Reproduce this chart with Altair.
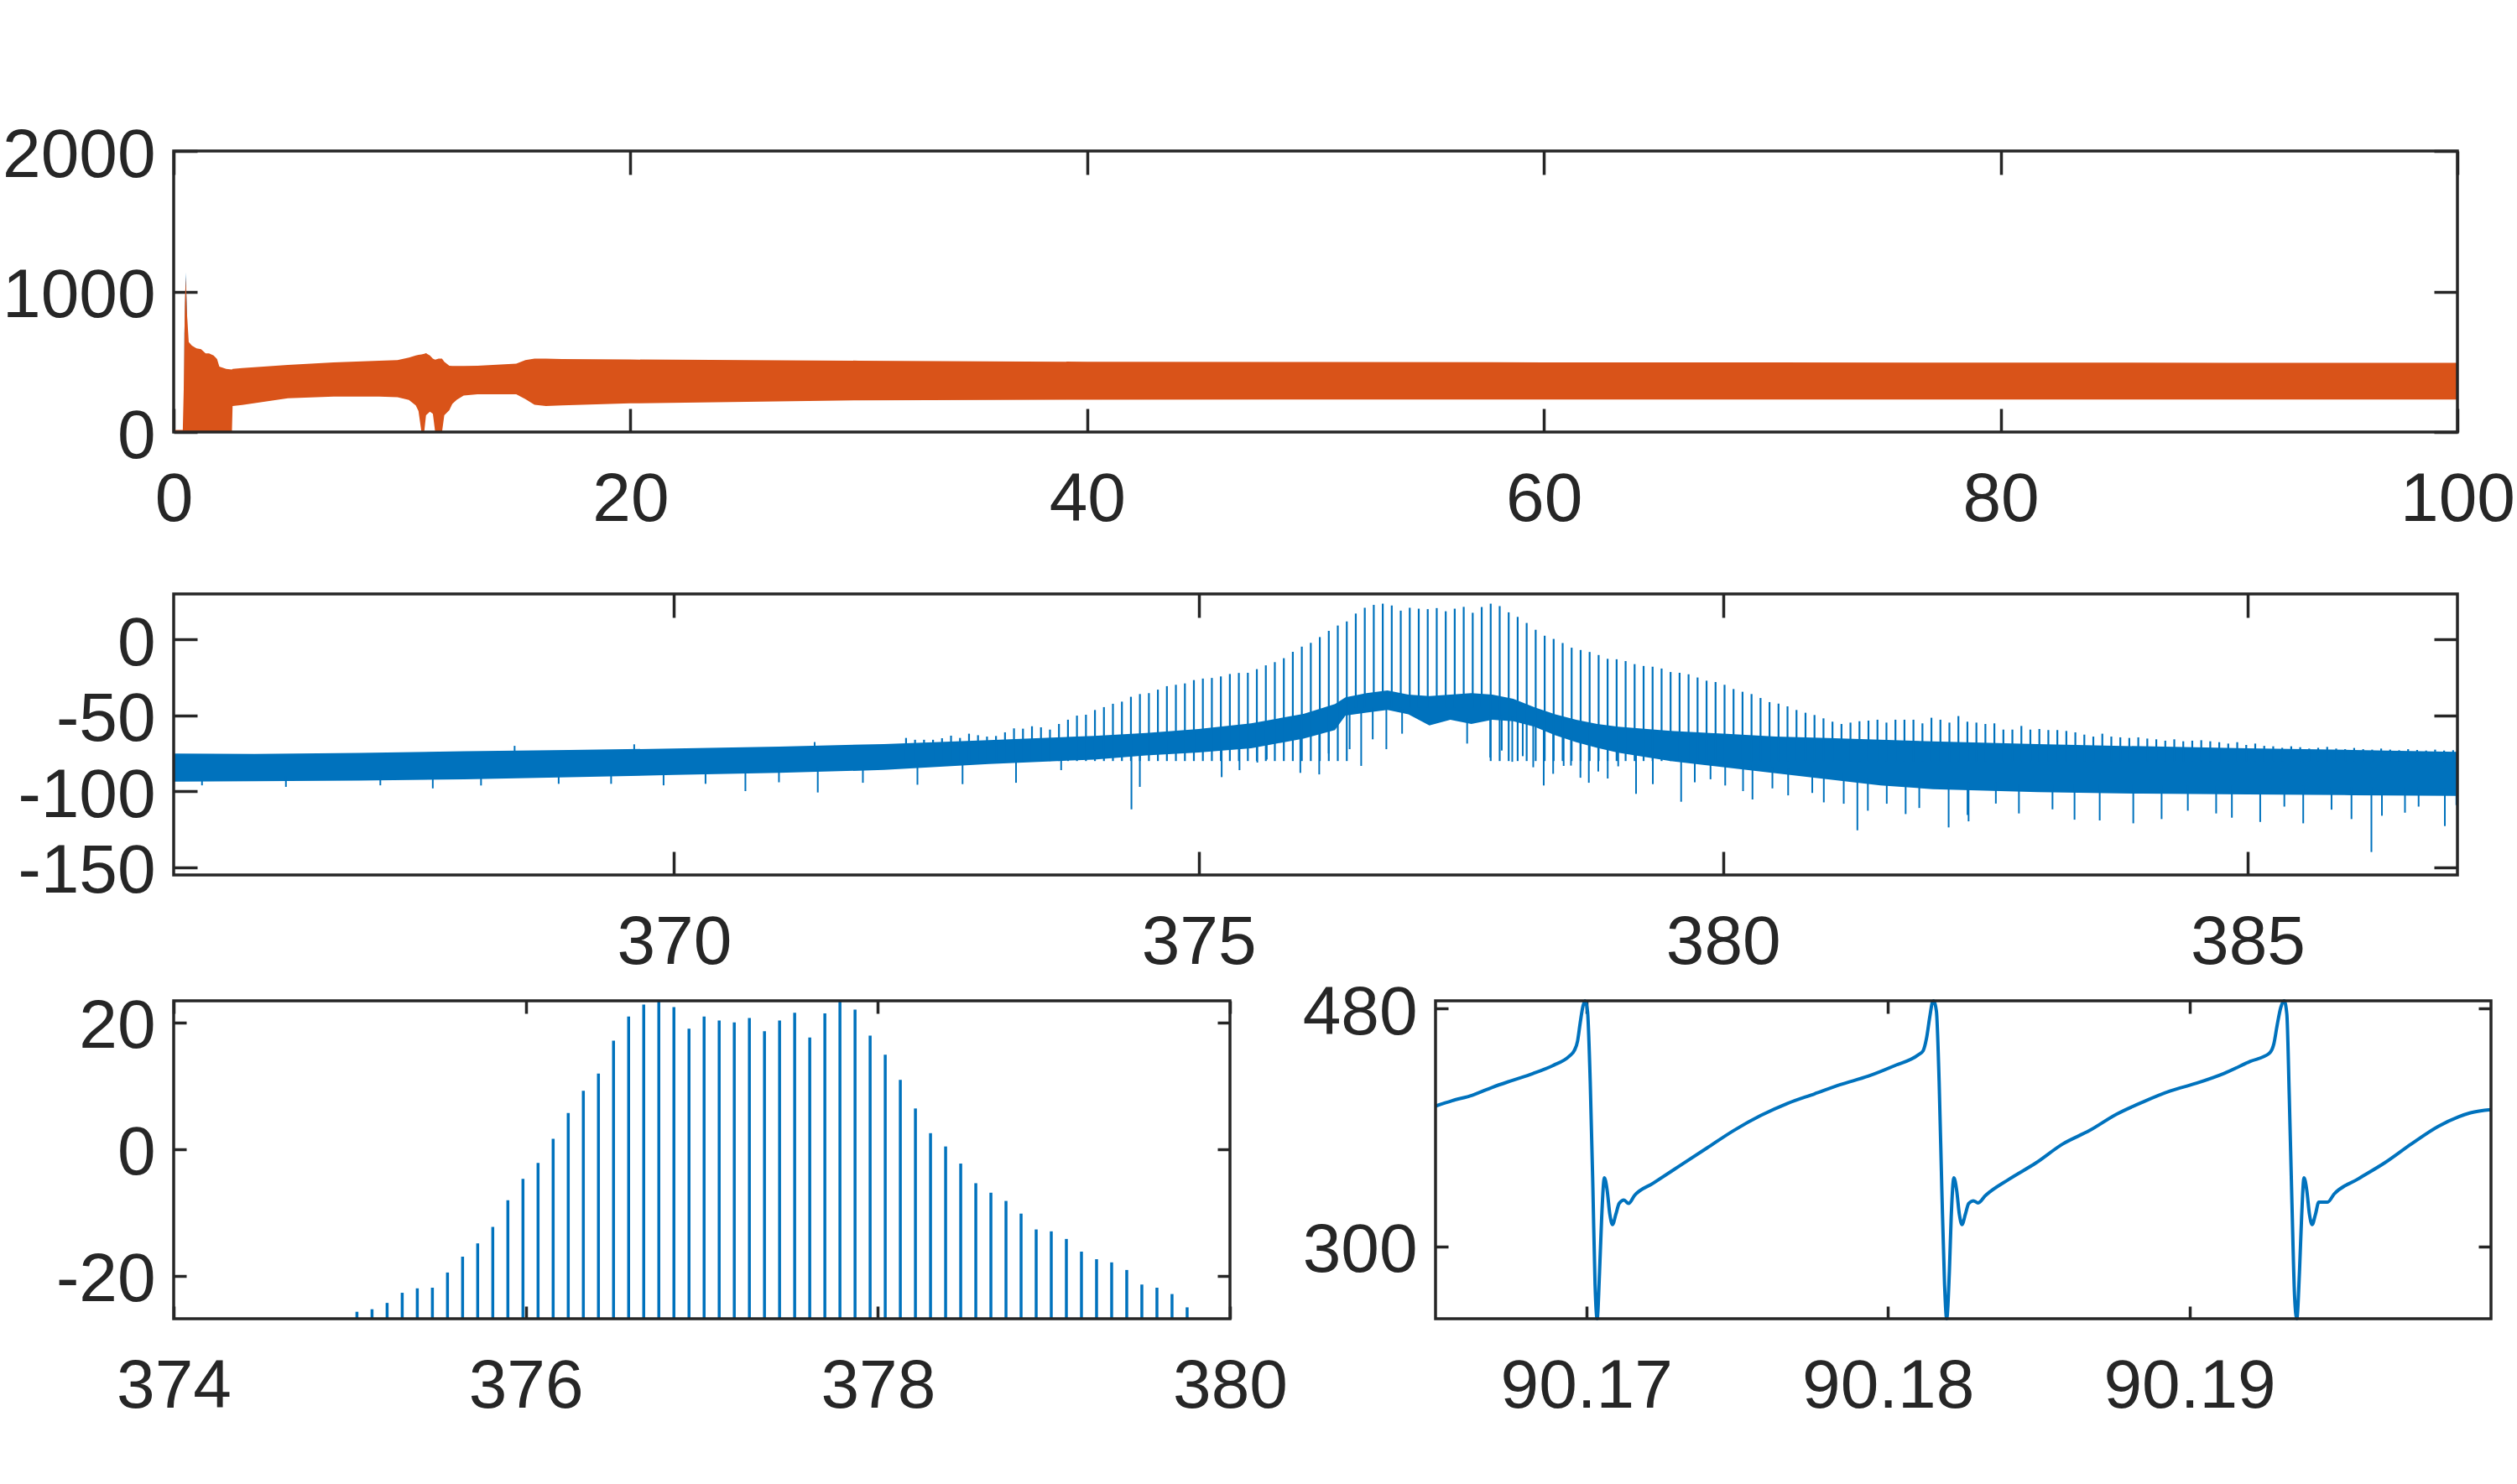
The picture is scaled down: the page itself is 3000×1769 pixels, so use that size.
import altair as alt
import numpy as np
import pandas as pd

BLUE = "#0072BD"
ORANGE = "#D95319"
INK = "#262626"
FONT = "Liberation Sans"
W, H = 3000, 1769

# ---------------- panel 1: envelope of the fast oscillation, 0-100 ns ----------------
TRACE_T = [0.0, 0.40, 0.44, 0.49, 0.53, 0.58, 0.66, 0.80, 1.00, 1.20, 1.40, 1.55, 1.75,
           1.90, 2.00, 2.30, 2.55, 2.58, 3.0, 5.0, 7.0, 9.0, 9.8, 10.3, 10.6, 10.72,
           10.85, 10.97, 11.05, 11.22, 11.35, 11.45, 11.6, 11.75, 11.85, 12.07, 12.2,
           12.4, 12.7, 13.3, 15.0, 15.4, 15.8, 16.3, 17.0, 20.0, 30.0, 40.0, 50.0,
           60.0, 70.0, 80.0, 90.0, 100.0]
TRACE_LO = [0, 0, 0, 0, 0, 0, 0, 0, 0, 0, 0, 0, 0,
            0, 0, 0, 0, 185, 192, 240, 252, 252, 248, 228, 190, 150,
            0, 0, 120, 145, 130, 0, 0, 0, 120, 155, 200,
            230, 260, 268, 268, 234, 194, 185, 190, 204, 226, 230, 232,
            232, 232, 232, 232, 232]
TRACE_HI = [15, 15, 300, 900, 1105, 850, 640, 615, 595, 590, 560, 560, 545,
            520, 465, 450, 445, 450, 455, 478, 496, 508, 512, 530, 545, 550,
            552, 556, 561, 545, 522, 515, 522, 522, 500, 472, 470,
            470, 470, 472, 486, 512, 522, 522, 520, 516, 508, 500, 498,
            496, 495, 494, 493, 492]
# first channel, visible only above the second one at the start-up spike
TRACE0_T = [0.47, 0.53, 0.59]
TRACE0_HI = [700, 1135, 800]

# ---------------- panel 2: spectrum (dB) ----------------
BAND_F = [365.2, 366.0, 367.0, 368.0, 369.0, 370.0, 371.0, 372.0, 373.0, 374.0,
          374.5, 375.0, 375.5, 376.0, 376.3, 376.4, 376.6, 376.8, 377.0, 377.2,
          377.4, 377.6, 377.8, 378.0, 378.2, 378.4, 378.6, 378.8, 379.0, 379.5,
          380.0, 380.5, 381.0, 381.5, 382.0, 383.0, 384.0, 385.0, 386.0, 387.0]
BAND_LO = [-93.5, -93.3, -92.9, -92.0, -90.7, -89.2, -87.8, -85.9, -82.0, -79.0,
           -76.3, -74.4, -71.6, -65.2, -59.6, -50.1, -48.2, -46.4, -49.2, -56.5,
           -52.8, -55.6, -52.8, -53.8, -57.4, -63.0, -67.6, -71.3, -74.5, -80.0,
           -84.0, -88.0, -92.0, -96.0, -98.5, -100.5, -101.5, -102.0, -102.5, -103.0]
BAND_HI = [-75.0, -75.4, -74.6, -73.6, -72.7, -71.8, -70.5, -68.8, -66.2, -63.5,
           -61.6, -58.9, -55.2, -49.0, -42.5, -38.1, -35.3, -33.5, -36.3, -37.2,
           -36.3, -35.3, -36.3, -39.0, -44.5, -49.2, -52.8, -55.6, -57.4, -60.2,
           -62.0, -63.9, -64.8, -66.0, -67.0, -68.9, -70.3, -71.6, -72.7, -74.0]

# comb lines on a uniform frequency grid (THz)
COMB_F0 = 372.2115
COMB_DF = 0.08574
COMB_PEAK = [
    -64.8, -66.0, -66.0, -66.0, -65.0, -63.3, -64.8, -62.0, -63.0, -63.9,
    -63.5, -61.1, -58.5, -58.7, -57.1, -57.8, -59.3, -55.6, -52.8, -50.1,
    -49.5, -46.4, -44.5, -42.3, -40.9, -37.7, -35.9, -35.3, -33.0, -30.7,
    -29.8, -28.9, -26.7,
    -25.7, -25.3, -24.3, -22.7, -22.0, -21.9, -19.5, -17.0, -14.9, -12.3,
    -8.1, -4.7, -2.2, 1.6, 5.7, 9.2, 11.9, 17.1, 20.9, 22.8,
    23.6, 22.4, 19.0, 20.9, 20.3, 20.0, 20.7, 18.6, 20.3, 21.5,
    17.6, 21.4, 23.6, 22.0, 17.9, 14.9, 10.9, 6.4, 2.5, 0.4,
    -2.3, -5.4, -6.9, -8.2, -10.2, -12.7, -13.0, -14.2, -16.2, -17.4,
    -17.9, -19.1, -21.4, -21.9, -22.9, -25.0,
    -27.1, -28.0, -29.8, -32.6, -34.4, -35.9, -38.5, -41.2, -42.2, -44.0,
    -46.4, -48.2, -49.7, -51.9, -54.1, -55.6,
    -54.7, -53.8, -53.4, -52.8, -54.7, -52.8, -52.8, -52.8, -55.2, -51.5,
    -52.8, -54.7, -50.4, -54.1, -54.7, -55.6, -55.2, -59.3, -59.3, -56.9,
    -59.3, -58.9, -59.6, -59.6, -60.2, -61.1, -62.6, -63.9, -62.0, -63.9,
    -64.4, -64.8, -64.4, -65.2, -65.7, -66.6, -65.7, -67.0, -66.6, -66.3,
    -67.0, -67.6, -68.5, -67.6, -69.4, -68.5, -70.0,
    -70.3, -71.3, -70.3, -70.9, -71.8, -71.3, -70.7, -71.8, -72.2, -71.4,
    -72.2, -72.5, -71.8, -72.5, -72.9, -72.2, -72.7, -73.1, -72.5, -73.1,
    -72.9,
]

# isolated noise spikes sticking out of the noise floor
SPIKE_F = [365.5, 366.3, 367.2, 367.7, 368.16, 368.48, 368.9, 369.4, 369.62, 369.9,
           370.3, 370.68, 371.0, 371.34, 371.37, 371.80, 372.32, 372.75, 373.26, 373.69,
           374.36, 374.44, 375.22, 375.39, 375.56, 375.65, 375.97, 376.15, 376.24, 376.44,
           376.55, 376.66, 376.79, 376.94, 377.56, 377.78, 377.89, 377.99, 378.09, 378.19,
           378.29, 378.38, 378.48, 378.55, 378.64, 378.72, 378.81, 378.90, 379.00, 379.17,
           379.33, 379.60, 379.73, 379.88, 380.02, 380.19, 380.28, 380.47, 380.62, 380.85,
           380.96, 381.15, 381.28, 381.38, 381.56, 381.74, 381.87, 382.15, 382.33, 382.34,
           382.60, 382.82, 383.14, 383.35, 383.59, 383.91, 384.18, 384.43, 384.70, 384.85,
           385.12, 385.35, 385.53, 385.80, 385.99, 386.18, 386.28, 386.50, 386.63, 386.88,
           386.99]
SPIKE_FROM = [-90, -90, -89, -89, -88, -76, -88, -87, -75, -86,
              -86, -86, -84, -73, -84, -83, -82, -80, -79, -77,
              -76, -74, -71, -69, -68, -67, -62, -58, -56, -48,
              -46, -45, -45, -46, -52, -50, -50, -51, -53, -55,
              -58, -60, -62, -64, -66, -67, -69, -70, -71, -73,
              -75, -77, -78, -80, -81, -82, -83, -84, -85, -86,
              -87, -88, -92, -92, -93, -93, -93, -94, -94, -94,
              -94, -95, -95, -95, -95, -95, -96, -96, -96, -96,
              -96, -96, -96, -97, -97, -97, -97, -97, -97, -98,
              -98]
SPIKE_TO = [-96.0, -97.0, -96.0, -98.0, -96.1, -70.0, -95.0, -95.0, -69.0, -96.0,
            -95.0, -99.8, -94.0, -67.5, -100.7, -94.3, -95.6, -95.2, -94.3, -86.0,
            -111.8, -97.0, -90.6, -86.0, -81.0, -79.0, -87.8, -88.8, -75.0, -72.2,
            -83.2, -65.7, -72.2, -62.0, -68.5, -77.7, -73.1, -80.5, -76.8, -84.1,
            -96.1, -88.4, -83.2, -83.0, -91.0, -94.3, -86.9, -91.5, -83.5, -101.6,
            -95.2, -106.8, -94.0, -92.0, -96.1, -99.8, -105.3, -98.0, -102.6, -101.0,
            -107.2, -108.1, -125.6, -112.7, -108.1, -114.9, -110.9, -123.7, -115.5, -119.7,
            -108.0, -114.5, -111.8, -118.6, -119.1, -121.0, -118.2, -112.7, -114.5, -117.3,
            -120.1, -110.0, -121.0, -112.0, -118.2, -139.9, -116.0, -114.0, -110.0, -122.8,
            -109.0]

# ---------------- panel 4: pulse train, time in ns ----------------
WAVE_T = [90.16500, 90.16555, 90.16622, 90.16689, 90.16755, 90.16822, 90.16889, 90.16944,
          90.16960, 90.16971, 90.16980, 90.16989, 90.16996, 90.17004, 90.17013, 90.17022,
          90.17029, 90.17036, 90.17044, 90.17051, 90.17060, 90.17069, 90.17078, 90.17087,
          90.17098, 90.17109, 90.17125, 90.17140, 90.17160, 90.17222, 90.17311, 90.17400,
          90.17489, 90.17578, 90.17667, 90.17756, 90.17845, 90.17934, 90.18023, 90.18101,
          90.18117, 90.18128, 90.18139, 90.18148, 90.18152, 90.18161, 90.18170, 90.18179,
          90.18188, 90.18195, 90.18204, 90.18210, 90.18219, 90.18228, 90.18237, 90.18246,
          90.18257, 90.18268, 90.18284, 90.18299, 90.18324, 90.18402, 90.18491, 90.18580,
          90.18669, 90.18758, 90.18846, 90.18935, 90.19024, 90.19113, 90.19202, 90.19265,
          90.19280, 90.19291, 90.19303, 90.19314, 90.19323, 90.19331, 90.19340, 90.19349,
          90.19356, 90.19365, 90.19372, 90.19380, 90.19389, 90.19398, 90.19407, 90.19418,
          90.19429, 90.19458, 90.19480, 90.19558, 90.19647, 90.19736, 90.19825, 90.19892,
          90.19932, 90.20000]
WAVE_V = [406.2, 410.3, 414.4, 420.5, 425.7, 430.8, 436.9, 444.1,
          448.2, 455.4, 469.7, 482.0, 492.0, 478.0, 424.6, 342.6,
          270.9, 238.0, 281.0, 322.0, 351.9, 342.6, 324.2, 316.4,
          324.2, 332.4, 334.9, 332.4, 338.5, 347.8, 361.1, 374.4,
          387.7, 399.0, 408.2, 415.4, 422.6, 428.8, 436.9, 445.1,
          448.2, 457.4, 473.8, 485.1, 492.0, 478.0, 424.6, 342.6,
          270.9, 238.0, 281.0, 322.0, 351.9, 342.6, 324.2, 316.4,
          324.2, 332.4, 334.4, 332.8, 338.5, 350.8, 363.1, 377.5,
          387.7, 400.0, 409.3, 417.5, 423.6, 430.8, 440.1, 446.2,
          453.4, 467.7, 481.0, 492.0, 475.9, 414.4, 332.4, 260.6,
          238.0, 281.0, 322.0, 351.9, 342.6, 324.2, 316.4, 324.2,
          333.4, 333.4, 339.6, 350.8, 363.1, 377.5, 390.8, 398.0,
          401.1, 403.5]

# ---------------- axes limits and ticks ----------------
P1_X, P1_Y = [0, 100], [0, 2000]
P2_X, P2_Y = [365.23, 387.0], [-155, 30]
P3_X, P3_Y = [374, 380], [-26.8, 23.4]
P4_X, P4_Y = [90.165, 90.2], [245, 486]

INT_LABEL = "datum.value < 0 ? '-' + format(-datum.value, 'd') : format(datum.value, 'd')"
DEC_LABEL = "format(datum.value, '.2f')"

# pixel boxes of the four plot areas: (left, right, top, bottom)
BOX1 = (207, 2929, 180, 515)
BOX2 = (207, 2929, 708, 1043)
BOX3 = (207, 1466, 1193, 1572)
BOX4 = (1711, 2969, 1193, 1572)


def scales(xdom, ydom, box):
    x0, x1, ytop, ybot = box
    xs = alt.Scale(domain=xdom, range=[x0, x1], nice=False, zero=False, clamp=True)
    ys = alt.Scale(domain=ydom, range=[ybot, ytop], nice=False, zero=False, clamp=True)
    return xs, ys


def frame(xs, ys, xdom, ydom, box, xticks, yticks, tick, xexpr, yexpr):
    """Box, inward ticks on all four sides, and tick labels on bottom/left."""
    x0, x1, ytop, ybot = box
    df = pd.DataFrame({"xa": [xdom[0]], "xb": [xdom[1]], "ya": [ydom[0]], "yb": [ydom[1]]})
    tick_style = dict(tickSize=tick, tickWidth=3.5, tickColor=INK, domain=False, grid=False)
    label_style = dict(labelFont=FONT, labelFontSize=82, labelColor=INK, labelLimit=1000,
                       labelFlush=False, labelOverlap=False)
    near = alt.Chart(df).mark_rect(fillOpacity=0, stroke=INK, strokeWidth=3.5).encode(
        x=alt.X("xa:Q", scale=xs, title=None,
                axis=alt.Axis(orient="bottom", values=xticks, offset=ybot - tick - H,
                              labelPadding=40, labelExpr=xexpr, **tick_style, **label_style)),
        x2="xb:Q",
        y=alt.Y("ya:Q", scale=ys, title=None,
                axis=alt.Axis(orient="left", values=yticks, offset=-(x0 + tick),
                              labelPadding=22, labelOffset=5, labelExpr=yexpr,
                              **tick_style, **label_style)),
        y2="yb:Q",
    )
    far = alt.Chart(df).mark_rect(opacity=0).encode(
        x=alt.X("xa:Q", scale=xs, title=None,
                axis=alt.Axis(orient="top", values=xticks, offset=-(ytop + tick),
                              labels=False, **tick_style)),
        x2="xb:Q",
        y=alt.Y("ya:Q", scale=ys, title=None,
                axis=alt.Axis(orient="right", values=yticks, offset=x1 - tick - W,
                              labels=False, **tick_style)),
        y2="yb:Q",
    )
    return [near, far]


layers = []

# ---- panel 1 ----
xs, ys = scales(P1_X, P1_Y, BOX1)
tr0 = pd.DataFrame({"t": TRACE0_T, "lo": [0] * len(TRACE0_T), "hi": TRACE0_HI})
tr = pd.DataFrame({"t": TRACE_T, "lo": TRACE_LO, "hi": TRACE_HI})
layers.append(alt.Chart(tr0).mark_area(color=BLUE).encode(
    x=alt.X("t:Q", scale=xs, axis=None), y=alt.Y("lo:Q", scale=ys, axis=None), y2="hi:Q"))
layers.append(alt.Chart(tr).mark_area(color=ORANGE).encode(
    x=alt.X("t:Q", scale=xs, axis=None), y=alt.Y("lo:Q", scale=ys, axis=None), y2="hi:Q"))
layers += frame(xs, ys, P1_X, P1_Y, BOX1, [0, 20, 40, 60, 80, 100], [0, 1000, 2000], 28,
                INT_LABEL, INT_LABEL)

# ---- panel 2 ----
xs, ys = scales(P2_X, P2_Y, BOX2)
band = pd.DataFrame({"f": BAND_F, "lo": BAND_LO, "hi": BAND_HI})
comb = pd.DataFrame({"f": COMB_F0 + COMB_DF * np.arange(len(COMB_PEAK)), "peak": COMB_PEAK})
core = (comb["f"] > 376.45) & (comb["f"] < 377.75)
comb["base"] = np.where(core, -45.0, -80.0)
spikes = pd.DataFrame({"f": SPIKE_F, "a": SPIKE_FROM, "b": SPIKE_TO})
layers.append(alt.Chart(band).mark_area(color=BLUE).encode(
    x=alt.X("f:Q", scale=xs, axis=None), y=alt.Y("lo:Q", scale=ys, axis=None), y2="hi:Q"))
layers.append(alt.Chart(spikes).mark_rule(color=BLUE, strokeWidth=2).encode(
    x=alt.X("f:Q", scale=xs, axis=None), y=alt.Y("a:Q", scale=ys, axis=None), y2="b:Q"))
layers.append(alt.Chart(comb).mark_rule(color=BLUE, strokeWidth=2.2).encode(
    x=alt.X("f:Q", scale=xs, axis=None), y=alt.Y("peak:Q", scale=ys, axis=None), y2="base:Q"))
layers += frame(xs, ys, P2_X, P2_Y, BOX2, [370, 375, 380, 385], [0, -50, -100, -150], 28,
                INT_LABEL, INT_LABEL)

# ---- panel 3: close-up of the comb ----
xs, ys = scales(P3_X, P3_Y, BOX3)
zoom = comb[comb["peak"] > P3_Y[0]].assign(base=P3_Y[0])
layers.append(alt.Chart(zoom).mark_rule(color=BLUE, strokeWidth=3.5).encode(
    x=alt.X("f:Q", scale=xs, axis=None), y=alt.Y("peak:Q", scale=ys, axis=None), y2="base:Q"))
layers += frame(xs, ys, P3_X, P3_Y, BOX3, [374, 376, 378, 380], [-20, 0, 20], 15,
                INT_LABEL, INT_LABEL)

# ---- panel 4: time trace close-up ----
xs, ys = scales(P4_X, P4_Y, BOX4)
wave = pd.DataFrame({"t": WAVE_T, "v": WAVE_V})
layers.append(alt.Chart(wave).mark_line(color=BLUE, strokeWidth=4, interpolate="monotone").encode(
    x=alt.X("t:Q", scale=xs, axis=None), y=alt.Y("v:Q", scale=ys, axis=None)))
layers += frame(xs, ys, P4_X, P4_Y, BOX4, [90.17, 90.18, 90.19], [300, 480], 15,
                DEC_LABEL, INT_LABEL)

chart = (
    alt.layer(*layers)
    .resolve_scale(x="independent", y="independent")
    .resolve_axis(x="independent", y="independent")
    .properties(width=W, height=H, autosize=alt.AutoSizeParams(type="none"),
                padding=0, background="white")
    .configure_view(strokeWidth=0)
)

chart.save("out.html", embed_options={"renderer": "svg", "actions": False})
